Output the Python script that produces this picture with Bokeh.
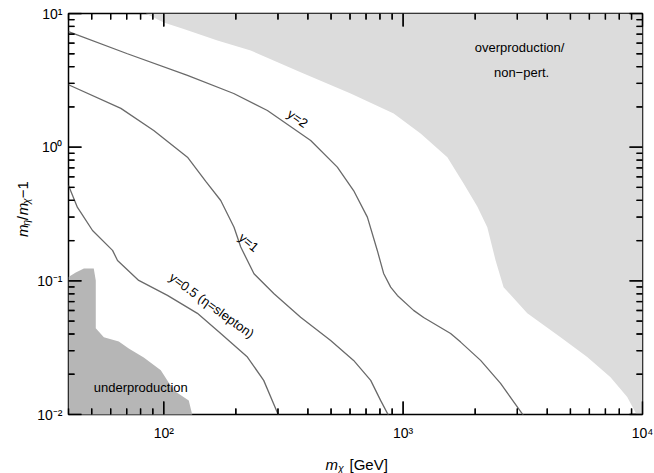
from bokeh.plotting import figure
from bokeh.layouts import column, row
from bokeh.models import Range1d, FixedTicker, Label, CustomJSTickFormatter, BoxAnnotation
from bokeh.embed import file_html
from bokeh.resources import INLINE

# ---- data ----
# contour y = 2
y2_mchi = [40, 70.5, 125.6, 196, 271, 411, 531, 621, 709, 780, 829, 887, 946, 1106, 1218, 1579, 1739, 2107, 2553, 3185]
y2_ratio = [7.33, 5.0, 3.44, 2.52, 1.88, 1.122, 0.709, 0.474, 0.2995, 0.1688, 0.1136, 0.0897, 0.0778, 0.0601, 0.0532, 0.0404, 0.0348, 0.0254, 0.0171, 0.0098]
# contour y = 1
y1_mchi = [40, 66.2, 90.8, 125.6, 149.8, 173, 196.6, 209.7, 238.2, 288.8, 373, 498, 621, 732, 805, 870]
y1_ratio = [2.93, 1.95, 1.333, 0.842, 0.554, 0.399, 0.252, 0.179, 0.113, 0.080, 0.0535, 0.0358, 0.0254, 0.018, 0.01275, 0.0098]
# contour y = 0.5
y05_mchi = [40, 43.6, 45, 50.4, 61.1, 64.1, 78.6, 103.6, 138.2, 173, 223.6, 261.5, 302]
y05_ratio = [0.517, 0.354, 0.325, 0.238, 0.169, 0.142, 0.1007, 0.0778, 0.0571, 0.0404, 0.0269, 0.018, 0.0098]
# overproduction / non-perturbative region
over_mchi = [84.1, 100, 121.2, 167.6, 230.8, 373, 603.6, 913, 1183, 1530, 1789, 2041, 2247, 2434, 2628, 3301, 4546, 5876, 7352, 8632, 9504, 10000, 10000]
over_ratio = [10, 8.56, 7.66, 6.28, 5.29, 3.64, 2.52, 1.786, 1.266, 0.842, 0.535, 0.36, 0.252, 0.142, 0.0897, 0.0571, 0.0379, 0.0269, 0.019, 0.0135, 0.0098, 0.0098, 10]
# underproduction region
under_mchi = [40, 42.9, 46.4, 51, 52, 52, 56.2, 64.9, 71.4, 82.5, 97.2, 110.1, 127.2, 131.8, 40]
under_ratio = [0.1066, 0.1156, 0.1238, 0.1238, 0.1007, 0.0441, 0.0379, 0.0352, 0.0312, 0.0267, 0.0214, 0.01514, 0.01275, 0.0098, 0.0098]

x_major = [100, 1000, 10000]
y_major = [0.01, 0.1, 1, 10]
x_lo, x_hi = 40, 10000
y_lo, y_hi = 0.01, 10

FONT = "Liberation Sans"
W, H = 654, 473
YW = 34          # width of the strip holding the y-axis title
XH = 30          # height of the strip holding the x-axis title
MW, MH = W - YW, H - XH
L, R, T, B = 68 - YW, 12, 13, 59 - XH

p = figure(width=MW, height=MH, x_axis_type="log", y_axis_type="log",
           x_range=Range1d(x_lo, x_hi), y_range=Range1d(y_lo, y_hi),
           output_backend="svg", toolbar_location=None,
           min_border_left=L, min_border_right=R, min_border_top=T, min_border_bottom=B)
p.xgrid.visible = False
p.ygrid.visible = False
p.outline_line_color = "black"
p.outline_line_width = 1.5

x_minor = [m * 10 ** k for k in range(1, 4) for m in range(2, 10)]
x_minor = [v for v in x_minor if v >= x_lo]
y_minor = [m * 10 ** k for k in range(-2, 1) for m in range(2, 10)]

fmt_code = """
const sup = {'-':'\u207b','0':'\u2070','1':'\u00b9','2':'\u00b2','3':'\u00b3','4':'\u2074'};
const e = Math.round(Math.log10(tick));
return '10' + String(e).split('').map(c => sup[c]).join('');
"""

for ax, ticks, so in [(p.xaxis[0], x_major, 10), (p.yaxis[0], y_major, 6)]:
    ax.ticker = FixedTicker(ticks=ticks, minor_ticks=[])
    ax.formatter = CustomJSTickFormatter(code=fmt_code)
    ax.major_tick_in = 0
    ax.major_tick_out = 0
    ax.minor_tick_in = 0
    ax.minor_tick_out = 0
    ax.axis_line_color = None
    ax.major_label_text_font = FONT
    ax.major_label_text_font_size = "14px"
    ax.major_label_text_color = "black"
    ax.major_label_standoff = so

# regions
p.patch(over_mchi, over_ratio, fill_color="#dcdcdc", line_color=None)
p.patch(under_mchi, under_ratio, fill_color="#b6b6b6", line_color=None)

# contours
for cx, cy in [(y2_mchi, y2_ratio), (y1_mchi, y1_ratio), (y05_mchi, y05_ratio)]:
    p.line(cx, cy, line_color="#6a6a6a", line_width=1.3)

# inward ticks on all four sides (pixel lengths converted to log-scale data)
XDEC, YDEC = 239.5, 133.7  # pixels per decade

def xin(v, px):
    return v * 10 ** (px / XDEC)

def yin(v, px):
    return v * 10 ** (px / YDEC)

MAJ, MIN = 13, 6
HW = 0.65  # half tick thickness in pixels

for ticks, ln in [(x_major, MAJ), (x_minor, MIN)]:
    n = len(ticks)
    p.segment(ticks, [y_lo] * n, ticks, [yin(y_lo, ln)] * n, line_color="black", line_width=1.3, level="overlay")
    p.segment(ticks, [y_hi] * n, ticks, [yin(y_hi, -ln)] * n, line_color="black", line_width=1.3, level="overlay")
    for t in ticks:
        p.add_layout(BoxAnnotation(left=xin(t, -HW), right=xin(t, HW), bottom=y_lo, top=yin(y_lo, ln),
                                   fill_color="black", fill_alpha=1.0, line_color=None, level="overlay"))
        p.add_layout(BoxAnnotation(left=xin(t, -HW), right=xin(t, HW), bottom=yin(y_hi, -ln), top=y_hi,
                                   fill_color="black", fill_alpha=1.0, line_color=None, level="overlay"))
for ticks, ln in [(y_major, MAJ), (y_minor, MIN)]:
    n = len(ticks)
    p.segment([x_lo] * n, ticks, [xin(x_lo, ln)] * n, ticks, line_color="black", line_width=1.3, level="overlay")
    p.segment([x_hi] * n, ticks, [xin(x_hi, -ln)] * n, ticks, line_color="black", line_width=1.3, level="overlay")
    for t in ticks:
        p.add_layout(BoxAnnotation(left=x_lo, right=xin(x_lo, ln), bottom=yin(t, -HW), top=yin(t, HW),
                                   fill_color="black", fill_alpha=1.0, line_color=None, level="overlay"))
        p.add_layout(BoxAnnotation(left=xin(x_hi, -ln), right=x_hi, bottom=yin(t, -HW), top=yin(t, HW),
                                   fill_color="black", fill_alpha=1.0, line_color=None, level="overlay"))

# pixel -> data helpers for in-frame annotations (pixel coords of the whole page)
def dx(px):
    return 10 ** (2 + (px - 163) / XDEC)

def dy(py):
    return 10 ** (1 - (py - 13) / YDEC)

def lab(fig, x, y, text, size=13, style="normal", align="center", baseline="middle", angle=0):
    fig.add_layout(Label(x=x, y=y, text=text, text_font=FONT,
                         text_font_size=f"{size}px", text_font_style=style,
                         text_align=align, text_baseline=baseline,
                         angle=angle, angle_units="deg", text_color="black"))

lab(p, dx(297), dy(118), "y=2", angle=-35)
lab(p, dx(248), dy(242), "y=1", angle=-40)
lab(p, dx(211), dy(305), "y=0.5 (\u03b7=slepton)", angle=-36)
lab(p, dx(519), dy(47), "overproduction/")
lab(p, dx(521), dy(72), "non\u2212pert.")
lab(p, dx(140), dy(387), "underproduction")

def strip(w, h):
    f = figure(width=w, height=h, x_range=Range1d(0, w), y_range=Range1d(0, h),
               output_backend="svg", toolbar_location=None, title_location=None,
               x_axis_location=None, y_axis_location=None,
               min_border=0, min_border_left=0, min_border_right=0,
               min_border_top=0, min_border_bottom=0)
    f.xgrid.visible = False
    f.ygrid.visible = False
    f.outline_line_color = None
    return f

# y-axis title strip: m_eta/m_chi - 1 (rotated); coordinates = page pixels (y flipped)
ystrip = strip(YW, MH)
def yl(px, py, text, size=15, style="normal"):
    lab(ystrip, px, MH - py, text, size=size, style=style, align="left", baseline="alphabetic", angle=90)
yl(22, 247, "m", style="italic")
yl(25.5, 234.5, "\u03b7", size=10.5, style="italic")
yl(22, 228.5, "/")
yl(22, 223, "m", style="italic")
yl(25.5, 210.5, "\u03c7", size=10.5, style="italic")
yl(22, 204, "\u22121")

# x-axis title strip: m_chi [GeV]; coordinates = page pixels (y flipped)
xstrip = strip(W, XH)
def xl(px, py, text, size=15, style="normal"):
    lab(xstrip, px, H - py, text, size=size, style=style, align="left", baseline="alphabetic")
xl(325, 464, "m", style="italic")
xl(337.5, 467, "\u03c7", size=10.5, style="italic")
xl(349, 464, "[GeV]")

layout = column(row(ystrip, p, spacing=0), xstrip, spacing=0)
open("out.html", "w").write(file_html(layout, INLINE))
